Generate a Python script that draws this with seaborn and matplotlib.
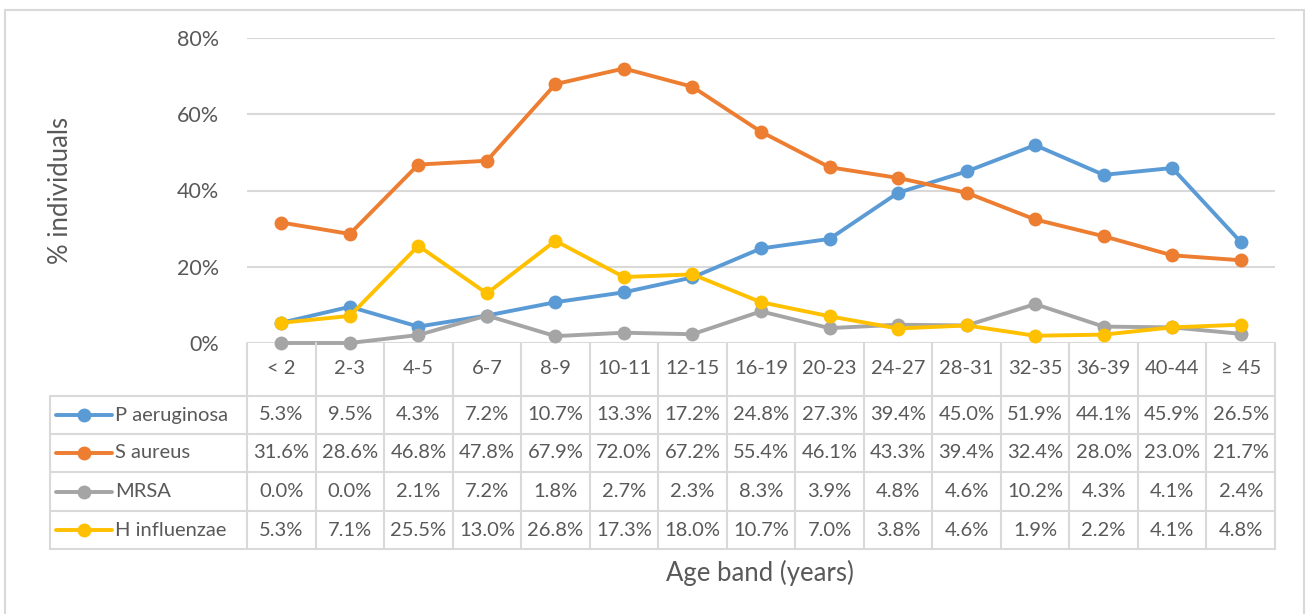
import numpy as np
import pandas as pd
import matplotlib
matplotlib.use("Agg")
import matplotlib.pyplot as plt
from matplotlib.lines import Line2D
from matplotlib.patches import Rectangle
from matplotlib.ticker import PercentFormatter
import seaborn as sns

# data (% individuals by age band)
age_bands = ["< 2", "2-3", "4-5", "6-7", "8-9", "10-11", "12-15", "16-19",
             "20-23", "24-27", "28-31", "32-35", "36-39", "40-44", "\u2265 45"]
p_aeruginosa = [5.3, 9.5, 4.3, 7.2, 10.7, 13.3, 17.2, 24.8, 27.3, 39.4, 45.0, 51.9, 44.1, 45.9, 26.5]
s_aureus = [31.6, 28.6, 46.8, 47.8, 67.9, 72.0, 67.2, 55.4, 46.1, 43.3, 39.4, 32.4, 28.0, 23.0, 21.7]
mrsa = [0.0, 0.0, 2.1, 7.2, 1.8, 2.7, 2.3, 8.3, 3.9, 4.8, 4.6, 10.2, 4.3, 4.1, 2.4]
h_influenzae = [5.3, 7.1, 25.5, 13.0, 26.8, 17.3, 18.0, 10.7, 7.0, 3.8, 4.6, 1.9, 2.2, 4.1, 4.8]

series_names = ["P aeruginosa", "S aureus", "MRSA", "H influenzae"]
series_vals = [p_aeruginosa, s_aureus, mrsa, h_influenzae]
colors = ["#5B9BD5", "#ED7D31", "#A5A5A5", "#FFC000"]

rows = []
for name, vals in zip(series_names, series_vals):
    for i, v in enumerate(vals):
        rows.append({"pos": i, "band": age_bands[i], "series": name, "pct": v / 100})
df = pd.DataFrame(rows)

sns.set_style("white")
plt.rcParams["font.family"] = ["Lato", "DejaVu Sans"]
txt_col = "#595959"
grid_col = "#D9D9D9"

W, H = 1306, 614
fig = plt.figure(figsize=(W / 100, H / 100), dpi=100)

# figure border
fig.patches.append(Rectangle((5 / W, -0.05), 1299 / W, 1 - 10 / H + 0.05,
                             transform=fig.transFigure, fill=False,
                             edgecolor=grid_col, lw=1.5))

# plot area in pixels
px_l, px_r, py_top, py_bot = 247, 1275, 38, 343
ax = fig.add_axes([px_l / W, 1 - py_bot / H, (px_r - px_l) / W, (py_bot - py_top) / H])

sns.lineplot(data=df, x="pos", y="pct", hue="series", palette=colors,
             hue_order=series_names, marker="o", markersize=10,
             markeredgewidth=0, linewidth=2.8, legend=False, ax=ax,
             clip_on=False)

ax.set_xlim(-0.5, len(age_bands) - 0.5)
ax.set_ylim(0, 0.8)
ax.set_yticks([0, 0.2, 0.4, 0.6, 0.8])
ax.yaxis.set_major_formatter(PercentFormatter(1.0, decimals=0))
ax.set_xticks([])
ax.tick_params(axis="y", length=0, pad=20, labelsize=15.5, labelcolor=txt_col)
ax.grid(axis="y", color=grid_col, lw=1.5)
ax.set_axisbelow(True)
for s in ax.spines.values():
    s.set_visible(False)
ax.set_xlabel("")
ax.set_ylabel("")
fig.text(60 / W, 1 - 190 / H, "% individuals", rotation=90, ha="center",
         va="center", fontsize=18.5, color=txt_col)

# data table below the plot
cw = (px_r - px_l) / len(age_bands)
tb_l, tb_b = 50, 549
tax = fig.add_axes([tb_l / W, 1 - tb_b / H, (px_r - tb_l) / W, (tb_b - py_bot) / H])
tax.set_xlim(-0.5 - (px_l - tb_l) / cw, len(age_bands) - 0.5)
tax.set_ylim(tb_b - py_bot, 0)
tax.axis("off")
x_left = -0.5 - (px_l - tb_l) / cw
row_lines = [53, 91, 129, 168, 206]

for y in row_lines:
    tax.plot([x_left, len(age_bands) - 0.5], [y, y], color=grid_col, lw=1.5, clip_on=False)
for k in range(len(age_bands) + 1):
    tax.plot([k - 0.5, k - 0.5], [0, 206], color=grid_col, lw=1.5, clip_on=False)
tax.plot([x_left, x_left], [53, 206], color=grid_col, lw=1.5, clip_on=False)

for i, band in enumerate(age_bands):
    tax.text(i, 26, band, ha="center", va="center", fontsize=14.5, color=txt_col)

for r, (name, vals, c) in enumerate(zip(series_names, series_vals, colors)):
    yc = (row_lines[r] + row_lines[r + 1]) / 2
    for i, v in enumerate(vals):
        tax.text(i, yc, f"{v:.1f}%", ha="center", va="center", fontsize=14.5, color=txt_col)
    lx0 = x_left + 6 / cw
    lx1 = x_left + 62 / cw
    tax.add_line(Line2D([lx0, lx1], [yc, yc], color=c, lw=2.8))
    tax.plot([(lx0 + lx1) / 2], [yc], "o", color=c, markersize=10, markeredgewidth=0)
    tax.text(x_left + 65 / cw, yc, name, ha="left", va="center", fontsize=14.5, color=txt_col)

fig.text(760 / W, 1 - 573 / H, "Age band (years)", ha="center", va="center",
         fontsize=18.5, color=txt_col)

fig.savefig("out.png", dpi=100)
